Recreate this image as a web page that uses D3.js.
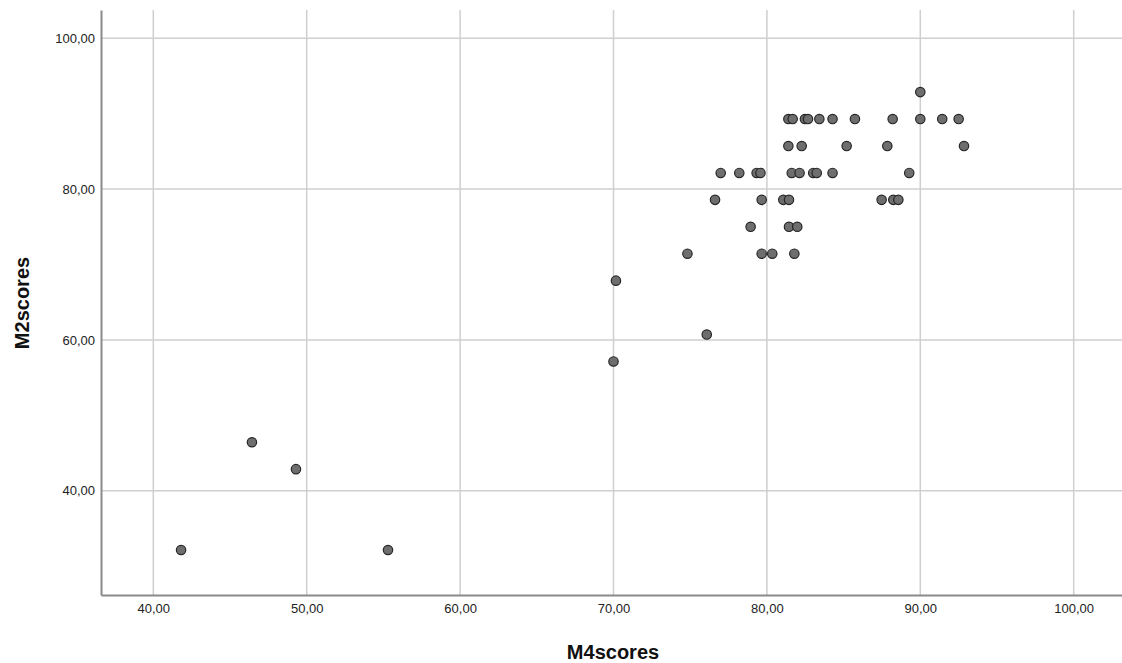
<!DOCTYPE html>
<meta charset="utf-8">
<style>
body { margin: 0; background: #fff; }
.grid line { stroke: #cfcfcf; stroke-width: 1.5; }
.tick text { font-family: "Liberation Sans", Arial, sans-serif; font-size: 13px; fill: #222; }
.title { font-family: "Liberation Sans", Arial, sans-serif; font-size: 20px; font-weight: bold; fill: #111; }
</style>
<script src="https://cdn.jsdelivr.net/npm/d3@7"></script>
<body>
<script>
// M4scores (x) and M2scores (y)
const m4 = [
  90.00,
  81.40, 81.68, 82.48, 82.68, 83.42, 84.28, 85.74, 88.20, 90.00, 91.43, 92.50,
  81.40, 82.27, 85.20, 87.85, 92.85,
  76.99, 78.20, 79.33, 79.58, 81.62, 82.13, 83.02, 83.25, 84.28, 89.28,
  76.62, 79.66, 81.07, 81.44, 87.48, 88.24, 88.57,
  78.94, 81.44, 81.98,
  74.82, 79.66, 80.35, 81.79,
  70.16, 76.08, 70.00,
  46.43, 49.30, 41.81, 55.30
];
const m2 = [
  92.86,
  89.29, 89.29, 89.29, 89.29, 89.29, 89.29, 89.29, 89.29, 89.29, 89.29, 89.29,
  85.71, 85.71, 85.71, 85.71, 85.71,
  82.14, 82.14, 82.14, 82.14, 82.14, 82.14, 82.14, 82.14, 82.14, 82.14,
  78.57, 78.57, 78.57, 78.57, 78.57, 78.57, 78.57,
  75.00, 75.00, 75.00,
  71.43, 71.43, 71.43, 71.43,
  67.86, 60.71, 57.14,
  46.43, 42.86, 32.14, 32.14
];
const xTicks = [40, 50, 60, 70, 80, 90, 100];
const yTicks = [40, 60, 80, 100];

const W = 1122, H = 663;
const plotL = 101, plotT = 10, plotR = 1122, plotB = 595;

const svg = d3.select('body').append('svg')
  .attr('width', W)
  .attr('height', H);

const x = d3.scaleLinear().domain([36.59, 103.15]).range([plotL, plotR]);
const y = d3.scaleLinear().domain([26.17, 103.75]).range([plotB, plotT]);

const fmt = v => d3.format('.2f')(v).replace('.', ',');

// gridlines
svg.append('g').attr('class', 'grid')
  .selectAll('line').data(xTicks).join('line')
    .attr('x1', d => x(d)).attr('x2', d => x(d))
    .attr('y1', plotT).attr('y2', plotB);
svg.append('g').attr('class', 'grid')
  .selectAll('line').data(yTicks).join('line')
    .attr('x1', plotL).attr('x2', plotR)
    .attr('y1', d => y(d)).attr('y2', d => y(d));

// axes
const xAxis = svg.append('g')
  .attr('transform', `translate(0, ${plotB})`)
  .call(d3.axisBottom(x).tickValues(xTicks).tickFormat(fmt).tickSize(0).tickPadding(9));
const yAxis = svg.append('g')
  .attr('transform', `translate(${plotL}, 0)`)
  .call(d3.axisLeft(y).tickValues(yTicks).tickFormat(fmt).tickSize(0).tickPadding(6));
[xAxis, yAxis].forEach(a => a.select('.domain')
  .attr('stroke', '#8a8a8a').attr('stroke-width', 2));

// points
const pts = m4.map((v, i) => ({ x: v, y: m2[i] }));
svg.append('g')
  .selectAll('circle').data(pts).join('circle')
    .attr('cx', d => x(d.x))
    .attr('cy', d => y(d.y))
    .attr('r', 4.7)
    .attr('fill', '#6e6e6e')
    .attr('stroke', '#262626')
    .attr('stroke-width', 1.2);

// titles
svg.append('text').attr('class', 'title')
  .attr('x', 613).attr('y', 659)
  .attr('text-anchor', 'middle')
  .text('M4scores');
svg.append('text').attr('class', 'title')
  .attr('transform', 'translate(29, 303) rotate(-90)')
  .attr('text-anchor', 'middle')
  .text('M2scores');
</script>
</body>
</html>
